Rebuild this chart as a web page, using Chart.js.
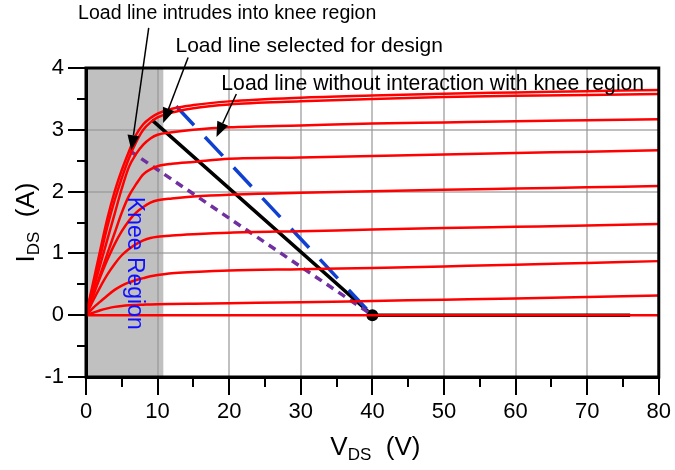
<!DOCTYPE html>
<html>
<head>
<meta charset="utf-8">
<title>Load lines on output characteristics</title>
<script src="https://cdn.jsdelivr.net/npm/chart.js@4"></script>
<style>
  html, body { margin: 0; padding: 0; background: #fff; }
  #wrap { width: 675px; height: 470px; position: relative; }
</style>
</head>
<body>
<div id="wrap"><canvas id="chart"></canvas></div>
<script>
// ---------- data ----------
// V_DS sample points shared by every output curve (V)
const V_DS = [0, 1, 2, 3, 4, 5, 6, 7, 8, 9, 10, 12, 15, 20, 30, 40, 50, 60, 70, 80];

// I_DS for each gate step, top curve first (A)
const IDS_1 = [0, 0.53, 1.06, 1.57, 2.0, 2.35, 2.65, 2.92, 3.09, 3.19, 3.26, 3.34, 3.40, 3.46, 3.52, 3.555, 3.585, 3.605, 3.625, 3.645];
const IDS_2 = [0, 0.48, 0.96, 1.44, 1.86, 2.22, 2.54, 2.8, 3.0, 3.12, 3.2, 3.28, 3.35, 3.41, 3.46, 3.5, 3.53, 3.55, 3.565, 3.58];
const IDS_3 = [0, 0.41, 0.82, 1.23, 1.64, 2.05, 2.4, 2.61, 2.76, 2.86, 2.92, 2.96, 3.0, 3.04, 3.07, 3.1, 3.12, 3.14, 3.155, 3.17];
const IDS_4 = [0, 0.33, 0.66, 1.0, 1.33, 1.66, 1.93, 2.12, 2.28, 2.36, 2.41, 2.45, 2.48, 2.53, 2.55, 2.575, 2.6, 2.625, 2.645, 2.67];
const IDS_5 = [0, 0.32, 0.62, 0.9, 1.15, 1.36, 1.53, 1.66, 1.75, 1.82, 1.86, 1.89, 1.92, 1.95, 1.98, 2.005, 2.03, 2.05, 2.07, 2.09];
const IDS_6 = [0, 0.24, 0.46, 0.66, 0.83, 0.97, 1.07, 1.15, 1.21, 1.25, 1.27, 1.29, 1.31, 1.335, 1.36, 1.385, 1.41, 1.43, 1.45, 1.475];
const IDS_7 = [0, 0.12, 0.22, 0.32, 0.41, 0.48, 0.53, 0.57, 0.6, 0.63, 0.65, 0.68, 0.7, 0.725, 0.745, 0.765, 0.79, 0.815, 0.845, 0.875];
const IDS_8 = [0, 0.04, 0.08, 0.11, 0.135, 0.15, 0.16, 0.165, 0.17, 0.175, 0.178, 0.182, 0.187, 0.195, 0.21, 0.23, 0.25, 0.27, 0.295, 0.32];
const IDS_9 = [0, 0, 0, 0, 0, 0, 0, 0, 0, 0, 0, 0, 0, 0, 0, 0, 0, 0, 0, 0];
const OUTPUT_CURVES = [IDS_1, IDS_2, IDS_3, IDS_4, IDS_5, IDS_6, IDS_7, IDS_8, IDS_9];

// load lines: [V_DS], [I_DS]
const DESIGN_V = [9.2, 40, 76];
const DESIGN_I = [3.16, 0, 0];
const NO_KNEE_V = [12.6, 40];
const NO_KNEE_I = [3.38, 0];
const IN_KNEE_V = [6.1, 40];
const IN_KNEE_I = [2.66, 0];
const Q_POINT = [40, 0];

// knee region spans V_DS 0 .. KNEE_EDGE
const KNEE_EDGE = 10.8;

// axes
const X_TICKS = [0, 10, 20, 30, 40, 50, 60, 70, 80];
const X_MINOR = [5, 15, 25, 35, 45, 55, 65, 75];
const Y_TICKS = [-1, 0, 1, 2, 3, 4];
const Y_MINOR = [-0.5, 0.5, 1.5, 2.5, 3.5];

// ---------- styling ----------
const FONT = "'Liberation Sans', Arial, sans-serif";
const RED = '#ff0000';
const BLUE = '#1040d0';
const PURPLE = '#7030a0';

// callouts, in data coordinates so they follow the scales
const NOTES = [
  { text: 'Load line intrudes into knee region', size: 19.5, at: [-1.1, 4.88], from: [8.76, 4.65], to: [6.33, 2.67] },
  { text: 'Load line selected for design', size: 21, at: [12.5, 4.36], from: [14.26, 4.17], to: [10.78, 3.11] },
  { text: 'Load line without interaction with knee region', size: 21.2, at: [18.9, 3.74], from: [21.0, 3.58], to: [18.22, 2.885] },
];
const KNEE_LABEL = { text: 'Knee Region', at: [6.7, 0.84] };

const zip = (xs, ys) => xs.map((x, i) => ({ x, y: ys[i] }));

const datasets = OUTPUT_CURVES.map((ids) => ({
  data: zip(V_DS, ids),
  borderColor: RED,
  borderWidth: 2.5,
  pointRadius: 0,
  cubicInterpolationMode: 'monotone',
}));

datasets.push(
  { data: zip(IN_KNEE_V, IN_KNEE_I), borderColor: PURPLE, borderWidth: 3.5, borderDash: [8, 6], pointRadius: 0 },
  { data: zip(NO_KNEE_V, NO_KNEE_I), borderColor: BLUE, borderWidth: 3.5, borderDash: [26, 16], pointRadius: 0 },
  { data: zip(DESIGN_V, DESIGN_I), borderColor: '#000', borderWidth: 3.5, pointRadius: 0 },
  {
    data: [{ x: Q_POINT[0], y: Q_POINT[1] }],
    showLine: false,
    pointRadius: 6,
    pointBackgroundColor: '#000',
    pointBorderWidth: 0,
  },
);

// ---------- drawing helpers ----------
function toPx(chart, [v, i]) {
  return [chart.scales.x.getPixelForValue(v), chart.scales.y.getPixelForValue(i)];
}

function arrow(ctx, [x0, y0], [x1, y1]) {
  const ang = Math.atan2(y1 - y0, x1 - x0);
  const len = 15, half = 6;
  const bx = x1 - len * Math.cos(ang), by = y1 - len * Math.sin(ang);
  ctx.beginPath();
  ctx.moveTo(x0, y0);
  ctx.lineTo(bx, by);
  ctx.stroke();
  ctx.beginPath();
  ctx.moveTo(x1, y1);
  ctx.lineTo(bx + half * Math.sin(ang), by - half * Math.cos(ang));
  ctx.lineTo(bx - half * Math.sin(ang), by + half * Math.cos(ang));
  ctx.closePath();
  ctx.fill();
}

// main text + subscript + tail, centred on x
function subTitle(ctx, main, sub, tail, cx, baseline) {
  const big = `26px ${FONT}`, small = `17px ${FONT}`;
  ctx.font = big;
  const wMain = ctx.measureText(main).width, wTail = ctx.measureText(tail).width;
  ctx.font = small;
  const wSub = ctx.measureText(sub).width;
  let x = cx - (wMain + wSub + wTail) / 2;
  ctx.textAlign = 'left';
  ctx.textBaseline = 'alphabetic';
  ctx.font = big;
  ctx.fillText(main, x, baseline);
  x += wMain;
  ctx.font = small;
  ctx.fillText(sub, x, baseline + 5);
  x += wSub;
  ctx.font = big;
  ctx.fillText(tail, x, baseline);
}

const overlay = {
  id: 'overlay',
  beforeDraw(chart) {
    const { ctx, chartArea: a } = chart;
    ctx.save();
    ctx.fillStyle = '#fff';
    ctx.fillRect(0, 0, chart.width, chart.height);
    const [x0] = toPx(chart, [0, 0]);
    const [x1] = toPx(chart, [KNEE_EDGE, 0]);
    ctx.fillStyle = '#c0c0c0';
    ctx.fillRect(x0, a.top, x1 - x0, a.bottom - a.top);
    ctx.restore();
  },
  afterDatasetsDraw(chart) {
    const { ctx, chartArea: a, scales: { x, y } } = chart;
    ctx.save();

    // frame round the plot
    ctx.strokeStyle = '#000';
    ctx.lineWidth = 3;
    ctx.strokeRect(a.left, a.top, a.right - a.left, a.bottom - a.top);

    // minor ticks, outward
    ctx.lineWidth = 2;
    ctx.beginPath();
    for (const v of X_MINOR) {
      const p = Math.round(x.getPixelForValue(v));
      ctx.moveTo(p, a.bottom);
      ctx.lineTo(p, a.bottom + 10);
    }
    for (const v of Y_MINOR) {
      const p = Math.round(y.getPixelForValue(v));
      ctx.moveTo(a.left, p);
      ctx.lineTo(a.left - 9, p);
    }
    ctx.stroke();

    // callouts
    ctx.fillStyle = '#000';
    ctx.textBaseline = 'middle';
    ctx.textAlign = 'left';
    ctx.lineWidth = 1.5;
    for (const n of NOTES) {
      const [tx, ty] = toPx(chart, n.at);
      ctx.font = `${n.size}px ${FONT}`;
      ctx.fillText(n.text, tx, ty);
      arrow(ctx, toPx(chart, n.from), toPx(chart, n.to));
    }

    // knee label, rotated to read downwards
    const [kx, ky] = toPx(chart, KNEE_LABEL.at);
    ctx.translate(kx, ky);
    ctx.rotate(Math.PI / 2);
    ctx.fillStyle = '#1010ff';
    ctx.font = `23px ${FONT}`;
    ctx.textAlign = 'center';
    ctx.fillText(KNEE_LABEL.text, 0, 0);
    ctx.restore();

    // axis titles with subscripts
    ctx.save();
    ctx.fillStyle = '#000';
    subTitle(ctx, 'V', 'DS', '  (V)', (a.left + a.right) / 2 + 3, 455);
    ctx.translate(34, (a.top + a.bottom) / 2);
    ctx.rotate(-Math.PI / 2);
    subTitle(ctx, 'I', 'DS', '  (A)', 0, 0);
    ctx.restore();
  },
};

const tickFont = { family: FONT, size: 22 };

new Chart(document.getElementById('chart'), {
  type: 'line',
  data: { datasets },
  plugins: [overlay],
  options: {
    responsive: true,
    maintainAspectRatio: false,
    animation: false,
    layout: { padding: { top: 68, right: 14, left: 0, bottom: 0 } },
    plugins: { legend: { display: false }, tooltip: { enabled: false } },
    scales: {
      x: {
        type: 'linear',
        min: 0,
        max: 80,
        afterBuildTicks: (s) => { s.ticks = X_TICKS.map((value) => ({ value })); },
        afterFit: (s) => { s.height = 93; },
        ticks: { color: '#000', font: tickFont, padding: 4, maxRotation: 0 },
        grid: { color: 'rgba(150,150,150,0.6)', lineWidth: 2, tickColor: '#000', tickLength: 18, tickWidth: 2 },
        border: { color: '#000', width: 3 },
      },
      y: {
        min: -1,
        max: 4,
        afterBuildTicks: (s) => { s.ticks = Y_TICKS.map((value) => ({ value })); },
        afterFit: (s) => { s.width = 86; },
        ticks: { color: '#000', font: tickFont, padding: 4 },
        grid: { color: 'rgba(150,150,150,0.6)', lineWidth: 2, tickColor: '#000', tickLength: 18, tickWidth: 2 },
        border: { color: '#000', width: 3 },
      },
    },
  },
});
</script>
</body>
</html>
